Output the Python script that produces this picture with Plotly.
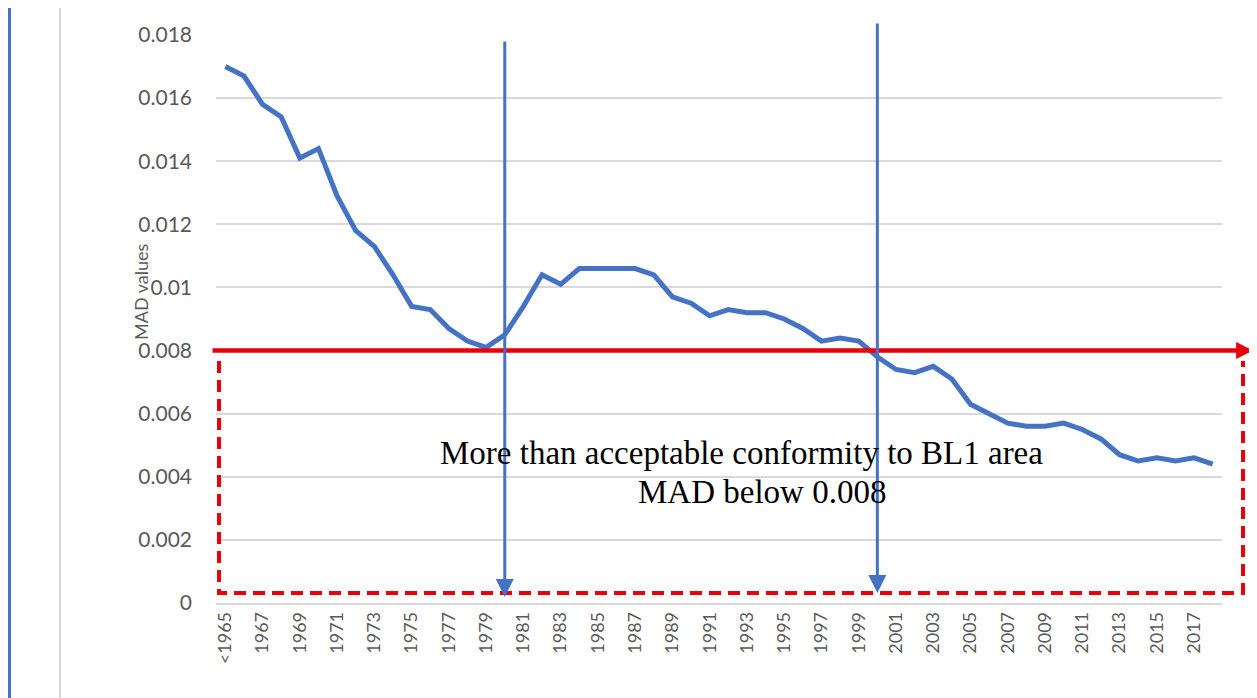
import plotly.graph_objects as go

# ---- data ----
years = ["<1965"] + [str(y) for y in range(1966, 2019)]
mad_values = [
    0.0170, 0.0167, 0.0158, 0.0154, 0.0141, 0.0144, 0.0129, 0.0118, 0.0113, 0.0104,
    0.0094, 0.0093, 0.0087, 0.0083, 0.0081, 0.0085, 0.0094, 0.0104, 0.0101, 0.0106,
    0.0106, 0.0106, 0.0106, 0.0104, 0.0097, 0.0095, 0.0091, 0.0093, 0.0092, 0.0092,
    0.0090, 0.0087, 0.0083, 0.0084, 0.0083, 0.0078, 0.0074, 0.0073, 0.0075, 0.0071,
    0.0063, 0.0060, 0.0057, 0.0056, 0.0056, 0.0057, 0.0055, 0.0052, 0.0047, 0.0045,
    0.0046, 0.0045, 0.0046, 0.0044,
]
x_tick_labels = years[0::2]
y_tick_vals = [0, 0.002, 0.004, 0.006, 0.008, 0.010, 0.012, 0.014, 0.016, 0.018]
y_tick_text = ["0", "0.002", "0.004", "0.006", "0.008", "0.01", "0.012", "0.014", "0.016", "0.018"]
threshold = 0.008
marked_years = ["1980", "2000"]
note_line1 = "More than acceptable conformity to BL1 area"
note_line2 = "MAD below 0.008"

# page body has an 8px margin; figure is sized so page == window
OFF = 8
W, H = 1257 - OFF, 698 - OFF
L, T = 216 - OFF, 35 - OFF
R = W - (1222 - OFF)
B = H - (603 - OFF)
PW, PH = W - L - R, H - T - B

def px_x(p):  # screen pixel x -> paper
    return (p - OFF - L) / PW

def px_y(p):  # screen pixel y -> paper
    return (H - B - (p - OFF)) / PH

BLUE = "#4472C4"
RED = "#E8000B"
GRID = "#D9D9D9"
TXT = "#595959"

fig = go.Figure()
fig.add_trace(go.Scatter(
    x=years, y=mad_values, mode="lines",
    line=dict(color=BLUE, width=5),
    showlegend=False, hoverinfo="x+y",
))

shapes = []
# outer blue frame
shapes.append(dict(type="rect", xref="paper", yref="paper",
                   x0=px_x(9.5), x1=px_x(1300), y0=px_y(4.5), y1=px_y(740),
                   line=dict(color="#4472C4", width=3), layer="above"))
# gray chart-area border (left / right)
for xp in (60, 1252):
    shapes.append(dict(type="line", xref="paper", yref="paper",
                       x0=px_x(xp), x1=px_x(xp), y0=px_y(6), y1=px_y(740),
                       line=dict(color=GRID, width=2)))
# red dashed box (left, bottom, right)
x0d, x1d = px_x(219), px_x(1243)
ytop, ybot = px_y(361), px_y(593)
shapes.append(dict(type="path", xref="paper", yref="paper",
                   path=f"M{x0d},{ytop} L{x0d},{ybot} L{x1d},{ybot} L{x1d},{ytop}",
                   line=dict(color=RED, width=4, dash="12px,7px")))
fig.update_layout(shapes=shapes)

annotations = []
# red threshold arrow
annotations.append(dict(
    xref="paper", yref="y", x=px_x(1253), y=threshold,
    axref="pixel", ayref="pixel", ax=-(1253 - 211), ay=0,
    text="", showarrow=True, arrowhead=2, arrowsize=0.75, arrowwidth=4.5,
    arrowcolor=RED, standoff=0,
))
# blue vertical arrows
tails = [40, 22]
tips = [597, 593]
for yr, tl, tp in zip(marked_years, tails, tips):
    annotations.append(dict(
        xref="x", yref="paper", x=years.index(yr), y=px_y(tp),
        axref="pixel", ayref="pixel", ax=0, ay=tl - tp,
        text="", showarrow=True, arrowhead=2, arrowsize=1.2, arrowwidth=3,
        arrowcolor=BLUE, standoff=0,
    ))
# note text
annotations.append(dict(xref="paper", yref="paper", x=px_x(741), y=px_y(453),
                        xanchor="center", yanchor="middle",
                        text=note_line1, showarrow=False,
                        font=dict(family="Liberation Serif", size=33, color="#000000")))
annotations.append(dict(xref="paper", yref="paper", x=px_x(762), y=px_y(492),
                        xanchor="center", yanchor="middle",
                        text=note_line2, showarrow=False,
                        font=dict(family="Liberation Serif", size=33, color="#000000")))
# y-axis title
annotations.append(dict(xref="paper", yref="paper", x=px_x(141), y=px_y(292),
                        xanchor="center", yanchor="middle",
                        text="MAD values", textangle=-90, showarrow=False,
                        font=dict(family="Lato", size=18, color=TXT)))
fig.update_layout(annotations=annotations)

fig.update_layout(
    width=W, height=H,
    margin=dict(l=L, r=R, t=T, b=B, autoexpand=False),
    paper_bgcolor="white", plot_bgcolor="white",
    font=dict(family="Lato", color=TXT),
    xaxis=dict(
        type="category", categoryorder="array", categoryarray=years,
        tickmode="array", tickvals=x_tick_labels, ticktext=x_tick_labels,
        tickangle=-90, tickfont=dict(size=18, color=TXT),
        showgrid=False, showline=True, linecolor=GRID, linewidth=1.5,
        ticks="", range=[-0.5, len(years) - 0.5], automargin=False,
    ),
    yaxis=dict(
        range=[0, 0.018], tickmode="array", tickvals=y_tick_vals, ticktext=y_tick_text,
        tickfont=dict(size=21, color=TXT), showgrid=True, gridcolor=GRID, gridwidth=1.5,
        zeroline=False, showline=False, ticks="", ticklabelstandoff=23, automargin=False,
    ),
)

fig.write_html("out.html")
